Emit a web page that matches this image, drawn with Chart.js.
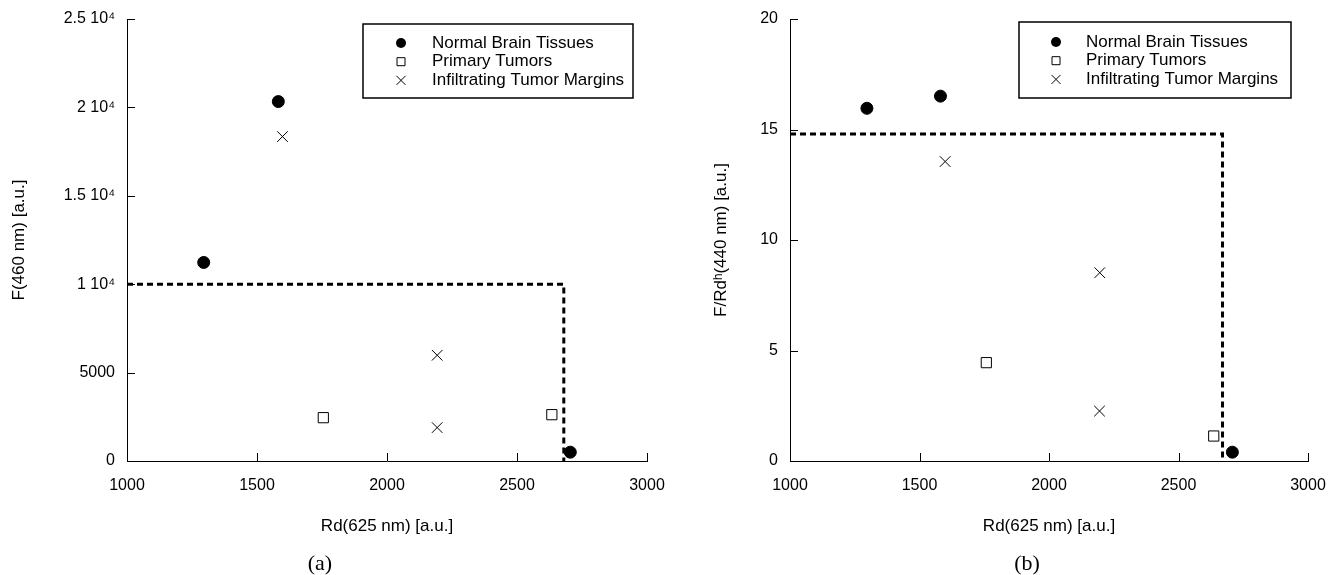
<!DOCTYPE html>
<html>
<head>
<meta charset="utf-8">
<script src="https://cdn.jsdelivr.net/npm/chart.js@4.4.1/dist/chart.umd.min.js"></script>
<style>
  html, body { margin: 0; padding: 0; background: #fff; }
  #page { position: relative; width: 1337px; height: 575px; }
  .panel { position: absolute; top: 0; height: 575px; }
  #panelA { left: 0; width: 670px; }
  #panelB { left: 670px; width: 667px; }
  .cap { position: absolute; top: 550px; width: 60px; margin-left: -30px; text-align: center;
         font: 22px 'Liberation Serif', 'Times New Roman', serif; line-height: 26px; color: #000; }
</style>
</head>
<body>
<div id="page">
  <div class="panel" id="panelA"><canvas id="chartA"></canvas></div>
  <div class="panel" id="panelB"><canvas id="chartB"></canvas></div>
  <div class="cap" style="left:320px">(a)</div>
  <div class="cap" style="left:1027px">(b)</div>
</div>
<script>
const seriesNames = ['Normal Brain Tissues', 'Primary Tumors', 'Infiltrating Tumor Margins']

// panel (a): F(460 nm) vs Rd(625 nm)
const normalA_x = [1295, 1582, 2705]
const normalA_y = [11230, 20330, 500]
const primaryA_x = [1755, 2634]
const primaryA_y = [2450, 2620]
const marginA_x = [1598, 2193, 2193]
const marginA_y = [18350, 5980, 1890]
const cutA_x = [1000, 2680, 2680]
const cutA_y = [10000, 10000, 0]

// panel (b): F/Rd^h(440 nm) vs Rd(625 nm)
const normalB_x = [1297, 1581, 2708]
const normalB_y = [15.96, 16.51, 0.4]
const primaryB_x = [1758, 2636]
const primaryB_y = [4.45, 1.13]
const marginB_x = [1599, 2196, 2195]
const marginB_y = [13.55, 8.52, 2.26]
const cutB_x = [1000, 2670, 2670]
const cutB_y = [14.8, 14.8, 0]

const xTicks = [1000, 1500, 2000, 2500, 3000]
const xTickLabels = ['1000', '1500', '2000', '2500', '3000']
const yTicksA = [0, 5000, 10000, 15000, 20000, 25000]
const yTickLabelsA = ['0', '5000', '1 10⁴', '1.5 10⁴', '2 10⁴', '2.5 10⁴']
const yTicksB = [0, 5, 10, 15, 20]
const yTickLabelsB = ['0', '5', '10', '15', '20']

const family = "'Liberation Sans', Arial, Helvetica, sans-serif"
const tickFont = { family, size: 16 }
const titleFont = { family, size: 17 }

function pts(xs, ys) {
  return xs.map((x, i) => ({ x, y: ys[i] }))
}

function drawMarker(ctx, style, x, y, r) {
  ctx.beginPath()
  if (style === 'circle') {
    ctx.arc(x, y, r, 0, Math.PI * 2)
    ctx.fill()
  } else if (style === 'rect') {
    ctx.rect(x - r, y - r, 2 * r, 2 * r)
    ctx.stroke()
  } else {
    ctx.moveTo(x - r, y - r)
    ctx.lineTo(x + r, y + r)
    ctx.moveTo(x + r, y - r)
    ctx.lineTo(x - r, y + r)
    ctx.stroke()
  }
}

// tick marks pointing into the plot area
const innerTicks = {
  id: 'innerTicks',
  afterDraw(chart) {
    const { ctx, chartArea, scales } = chart
    const len = 8
    ctx.save()
    ctx.strokeStyle = '#000'
    ctx.lineWidth = 1
    ctx.beginPath()
    scales.x.ticks.forEach(t => {
      const px = Math.round(scales.x.getPixelForValue(t.value)) + 0.5
      ctx.moveTo(px, chartArea.bottom)
      ctx.lineTo(px, chartArea.bottom - len)
    })
    scales.y.ticks.forEach(t => {
      const py = Math.round(scales.y.getPixelForValue(t.value)) + 0.5
      ctx.moveTo(chartArea.left, py)
      ctx.lineTo(chartArea.left + len, py)
    })
    ctx.stroke()
    ctx.restore()
  }
}

// boxed legend in the upper right corner of the plot area
const boxLegend = {
  id: 'boxLegend',
  afterDatasetsDraw(chart, args, opts) {
    const { ctx, chartArea } = chart
    const left = chartArea.right - opts.right - opts.width
    const top = chartArea.top + opts.top
    const items = chart.data.datasets.filter(d => !d.showLine)
    const sizes = { circle: 5, rect: 4, crossRot: 4.5 }
    ctx.save()
    ctx.fillStyle = '#fff'
    ctx.fillRect(left, top, opts.width, opts.height)
    ctx.strokeStyle = '#000'
    ctx.lineWidth = 1.5
    ctx.strokeRect(left, top, opts.width, opts.height)
    ctx.lineWidth = 1
    ctx.font = `${titleFont.size}px ${family}`
    ctx.textBaseline = 'middle'
    ctx.fillStyle = '#000'
    items.forEach((d, i) => {
      const y = top + opts.firstRow + i * opts.rowHeight
      drawMarker(ctx, d.pointStyle, left + opts.markerX, y, sizes[d.pointStyle])
      ctx.fillText(d.label, left + opts.textX, y)
    })
    ctx.restore()
  }
}

function buildDatasets(nx, ny, px, py, mx, my, cx, cy) {
  return [
    { label: seriesNames[0], data: pts(nx, ny), pointStyle: 'circle', pointRadius: 6,
      backgroundColor: '#000', borderColor: '#000', borderWidth: 1 },
    { label: seriesNames[1], data: pts(px, py), pointStyle: 'rect', pointRadius: 7.2,
      backgroundColor: '#fff', borderColor: '#000', borderWidth: 1 },
    { label: seriesNames[2], data: pts(mx, my), pointStyle: 'crossRot', pointRadius: 7.5,
      borderColor: '#000', borderWidth: 1 },
    { label: 'threshold', data: pts(cx, cy), showLine: true, pointRadius: 0, fill: false,
      borderColor: '#000', borderWidth: 3, borderDash: [6, 4], borderCapStyle: 'butt' }
  ]
}

function makeChart(id, datasets, cfg) {
  return new Chart(document.getElementById(id), {
    type: 'scatter',
    data: { datasets },
    options: {
      responsive: true,
      maintainAspectRatio: false,
      animation: false,
      events: [],
      layout: { padding: { left: 0, top: 19, right: cfg.padRight, bottom: 0 } },
      plugins: {
        legend: { display: false },
        tooltip: { enabled: false },
        boxLegend: cfg.legend
      },
      scales: {
        x: {
          type: 'linear',
          min: 1000,
          max: 3000,
          afterBuildTicks: s => { s.ticks = xTicks.map(v => ({ value: v })) },
          ticks: { callback: v => xTickLabels[xTicks.indexOf(v)], padding: 15, maxRotation: 0,
                   autoSkip: false, color: '#000', font: tickFont },
          grid: { display: false, drawTicks: false },
          border: { color: '#000', width: 1 },
          title: { display: true, text: 'Rd(625 nm) [a.u.]', color: '#000', font: titleFont,
                   padding: { top: 0, bottom: 38 } },
          afterFit: s => {
            s.height = 114
            s.paddingLeft = 0
            s.paddingRight = 0
          }
        },
        y: {
          type: 'linear',
          min: 0,
          max: cfg.yTicks[cfg.yTicks.length - 1],
          afterBuildTicks: s => { s.ticks = cfg.yTicks.map(v => ({ value: v })) },
          ticks: { callback: v => cfg.yLabels[cfg.yTicks.indexOf(v)], padding: 12,
                   color: '#000', font: tickFont },
          grid: { display: false, drawTicks: false },
          border: { color: '#000', width: 1 },
          title: { display: true, text: cfg.yTitle, color: '#000', font: titleFont,
                   padding: { top: cfg.yTitlePad, bottom: 0 } },
          afterFit: s => {
            s.width = cfg.yWidth
            s.paddingTop = 0
            s.paddingBottom = 0
          }
        }
      }
    },
    plugins: [innerTicks, boxLegend]
  })
}

makeChart('chartA',
  buildDatasets(normalA_x, normalA_y, primaryA_x, primaryA_y, marginA_x, marginA_y, cutA_x, cutA_y),
  {
    padRight: 23, yWidth: 127, yTitlePad: 9, yTitle: 'F(460 nm) [a.u.]',
    yTicks: yTicksA, yLabels: yTickLabelsA,
    legend: { right: 14, top: 5, width: 270, height: 74, markerX: 38, textX: 69, firstRow: 19, rowHeight: 18.7 }
  })

makeChart('chartB',
  buildDatasets(normalB_x, normalB_y, primaryB_x, primaryB_y, marginB_x, marginB_y, cutB_x, cutB_y),
  {
    padRight: 29, yWidth: 120, yTitlePad: 41, yTitle: 'F/Rdʰ(440 nm) [a.u.]',
    yTicks: yTicksB, yLabels: yTickLabelsB,
    legend: { right: 17, top: 3, width: 272, height: 76, markerX: 37, textX: 67, firstRow: 20, rowHeight: 18.7 }
  })
</script>
</body>
</html>
